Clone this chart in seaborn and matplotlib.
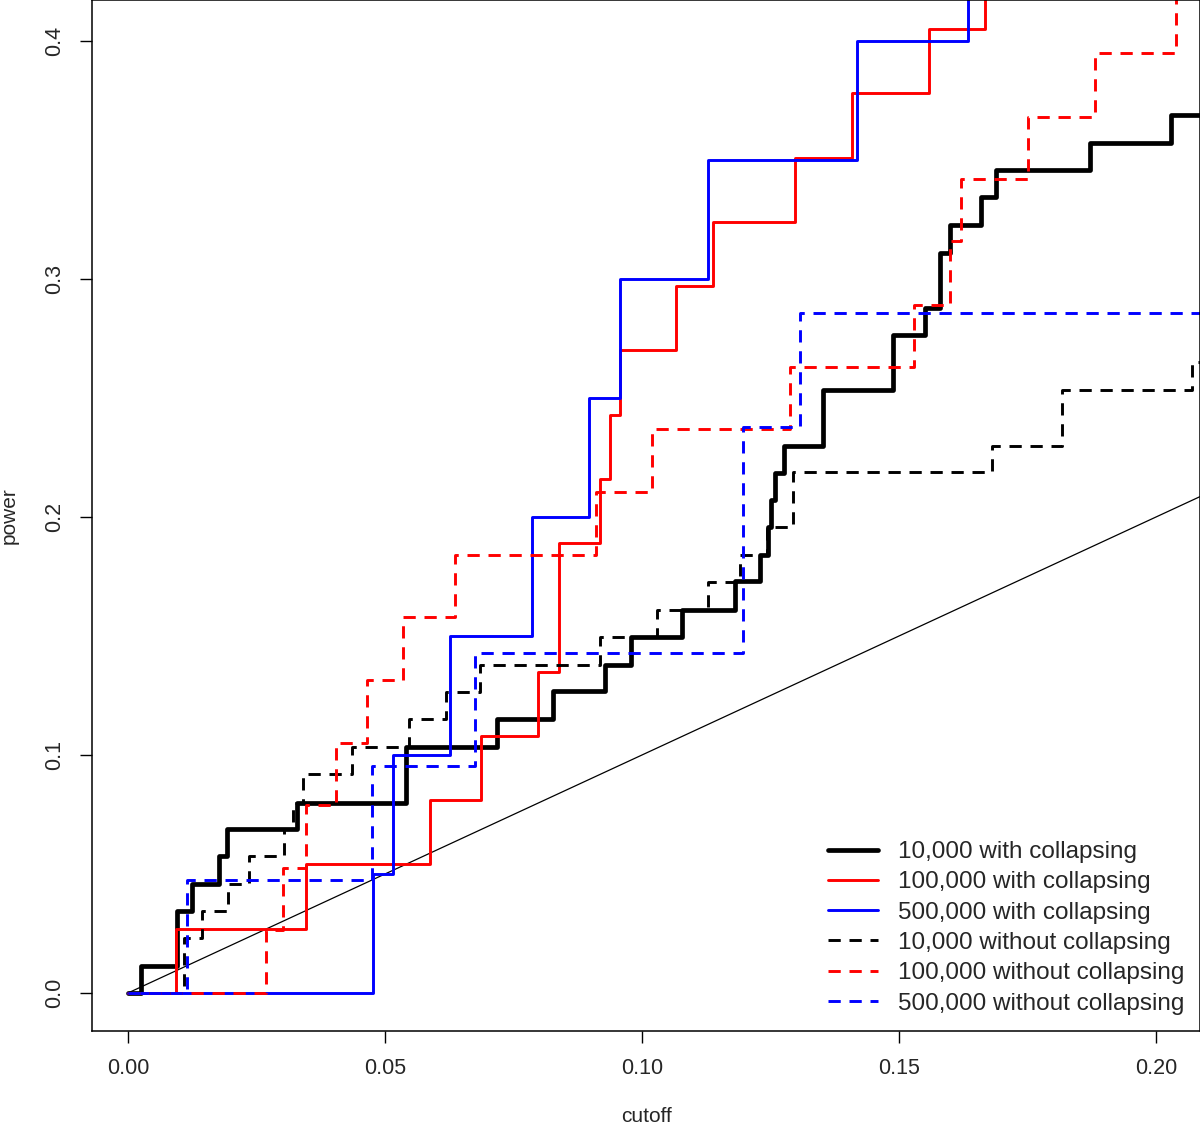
import numpy as np
import pandas as pd
import matplotlib
matplotlib.use("Agg")
import matplotlib.pyplot as plt
import seaborn as sns

# cutoff values where each power curve steps up, and the power level reached
blk_x = [0.0025, 0.0095, 0.0125, 0.0177, 0.0193, 0.0329, 0.0541, 0.0718, 0.0827, 0.0928,
         0.0979, 0.1078, 0.1181, 0.1230, 0.1245, 0.1251, 0.1259, 0.1276, 0.1352, 0.1488,
         0.1551, 0.1580, 0.1599, 0.1660, 0.1689, 0.1872, 0.2029]
blk_y = [0.0113, 0.0345, 0.046, 0.0576, 0.069, 0.080, 0.1034, 0.115, 0.127, 0.138,
         0.1496, 0.161, 0.173, 0.184, 0.196, 0.207, 0.2185, 0.230, 0.2534, 0.2765,
         0.288, 0.311, 0.3227, 0.3345, 0.3458, 0.357, 0.369]

red_x = [0.0094, 0.0347, 0.0588, 0.0687, 0.0798, 0.0839, 0.0918, 0.0938, 0.0957, 0.1066,
         0.1138, 0.1298, 0.1409, 0.1558, 0.1667]
red_y = [0.027, 0.054, 0.081, 0.108, 0.135, 0.189, 0.216, 0.243, 0.270, 0.297,
         0.324, 0.351, 0.378, 0.405, 0.432]

blu_x = [0.0477, 0.0516, 0.0627, 0.0786, 0.0897, 0.0957, 0.1128, 0.1418, 0.1634]
blu_y = [0.05, 0.10, 0.15, 0.20, 0.25, 0.30, 0.35, 0.40, 0.45]

blk_nc_x = [0.0109, 0.0144, 0.0195, 0.0235, 0.0304, 0.0321, 0.0341, 0.0436, 0.0547, 0.0619,
            0.0685, 0.0918, 0.1029, 0.1128, 0.1191, 0.1243, 0.1294, 0.1681, 0.1817, 0.2070]
blk_nc_y = [0.023, 0.0345, 0.046, 0.0576, 0.069, 0.080, 0.092, 0.1034, 0.115, 0.1265,
            0.138, 0.1496, 0.161, 0.1727, 0.184, 0.196, 0.219, 0.230, 0.2534, 0.265]

red_nc_x = [0.0269, 0.0302, 0.0346, 0.0405, 0.0465, 0.0535, 0.0636, 0.0911, 0.1020, 0.1288,
            0.1529, 0.1599, 0.1621, 0.1751, 0.1881, 0.2039]
red_nc_y = [0.0263, 0.0526, 0.079, 0.105, 0.1316, 0.158, 0.184, 0.2105, 0.237, 0.263,
            0.289, 0.316, 0.342, 0.368, 0.395, 0.421]

blu_nc_x = [0.0115, 0.0475, 0.0675, 0.1197, 0.1307]
blu_nc_y = [0.0476, 0.0952, 0.1429, 0.238, 0.2857]

nombres = ["10,000 with collapsing", "100,000 with collapsing", "500,000 with collapsing",
           "10,000 without collapsing", "100,000 without collapsing", "500,000 without collapsing"]
x_fin = 0.21

# tabla larga para seaborn
filas = []
for nombre, xs, ys in zip(nombres,
                          [blk_x, red_x, blu_x, blk_nc_x, red_nc_x, blu_nc_x],
                          [blk_y, red_y, blu_y, blk_nc_y, red_nc_y, blu_nc_y]):
    xx = [0.0] + xs + [x_fin]
    yy = [0.0] + ys + [ys[-1]]
    filas.append(pd.DataFrame({"cutoff": xx, "power": yy, "serie": nombre}))
df = pd.concat(filas, ignore_index=True)

colores = dict(zip(nombres, ["black", "#ff0000", "#0000ff", "black", "#ff0000", "#0000ff"]))
guiones = dict(zip(nombres, ["", "", "", (4.2, 3.0), (4.2, 3.0), (4.2, 3.0)]))
grosores = dict(zip(nombres, [3.4, 2.1, 2.1, 2.1, 2.1, 2.1]))

sns.set_style("ticks")
plt.rcParams["font.family"] = ["Liberation Sans", "DejaVu Sans"]

fig = plt.figure(figsize=(12, 11.28), dpi=100)
ax = fig.add_axes([92 / 1200, 97 / 1128, 1108 / 1200, 1031 / 1128])

sns.lineplot(x=[0.0, x_fin], y=[0.0, x_fin], color="black", linewidth=0.9, ax=ax)
sns.lineplot(data=df, x="cutoff", y="power", hue="serie", style="serie", size="serie",
             hue_order=nombres, style_order=nombres, size_order=nombres,
             palette=colores, dashes=guiones, sizes=grosores,
             estimator=None, sort=False, drawstyle="steps-post", ax=ax)

ax.set_xlim(-0.0070, 0.20856)
ax.set_ylim(-0.01597, 0.41723)
ax.set_xticks([0.0, 0.05, 0.10, 0.15, 0.20])
ax.set_xticklabels(["0.00", "0.05", "0.10", "0.15", "0.20"])
ax.set_yticks([0.0, 0.1, 0.2, 0.3, 0.4])
ax.set_yticklabels(["0.0", "0.1", "0.2", "0.3", "0.4"])
plt.setp(ax.get_yticklabels(), rotation=90, va="center")
ax.tick_params(axis="both", length=8.6, width=1.0, labelsize=15.5, pad=11, color="black")
for s in ax.spines.values():
    s.set_visible(True)
    s.set_color("black")
    s.set_linewidth(1.1)

ax.set_xlabel("cutoff", fontsize=15, labelpad=20)
ax.set_ylabel("power", fontsize=15, labelpad=18)

handles, labels = ax.get_legend_handles_labels()
pares = [(h, l) for h, l in zip(handles, labels) if l in nombres]
ax.legend([p[0] for p in pares], [p[1] for p in pares], loc="lower left",
          bbox_to_anchor=(0.664, 0.016), frameon=False, fontsize=17.5,
          handlelength=2.05, handletextpad=0.86, labelspacing=0.34,
          borderpad=0, borderaxespad=0)

fig.savefig("out.png", dpi=100)
